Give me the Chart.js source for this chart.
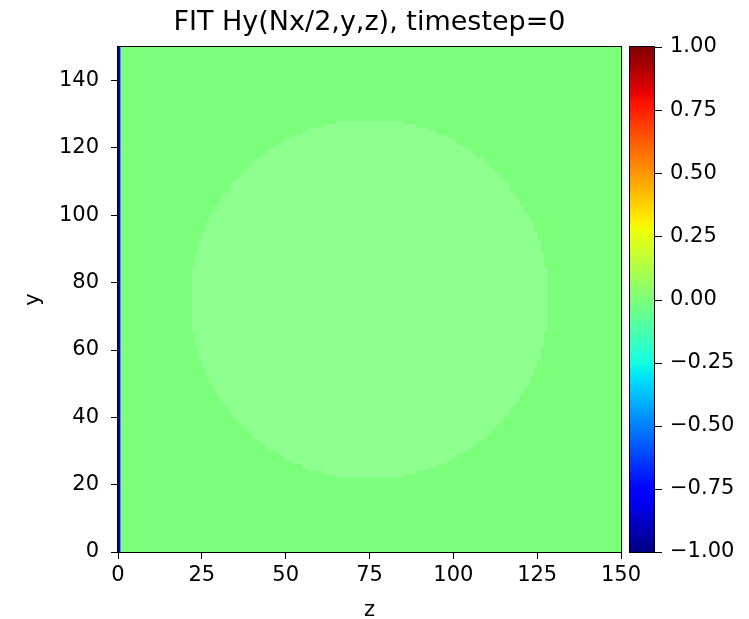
<!DOCTYPE html>
<html><head><meta charset="utf-8">
<script src="https://cdn.jsdelivr.net/npm/chart.js@4"></script>
<style>html,body{margin:0;padding:0;background:#fff}#wrap{width:749px;height:619px}</style>
</head><body><div id="wrap"><canvas id="c" width="749" height="619"></canvas></div>
<script>
// ---- data ----
const titleText = 'FIT Hy(Nx/2,y,z), timestep=0';
const xTicks = [0, 25, 50, 75, 100, 125, 150];
const yTicks = [0, 20, 40, 60, 80, 100, 120, 140];
const cbTicks = [-1, -0.75, -0.5, -0.25, 0, 0.25, 0.5, 0.75, 1];
const gridSize = 150;                 // cells along z and y
const backgroundValue = 0.0;          // field value almost everywhere
const edgeStripZ = [0, 0.3];          // thin strips at z = 0
const edgeStripWidth = [0.3, 0.4];
const edgeStripValue = [-1.0, -0.8];
const circleCenter = [75, 75];        // (z, y)
const circleRadius = 53.5;
const circleLighten = 0.15;           // lighter disc over the field

// ---- colour map (jet) ----
function interp(t, pts) {
  for (let i = 1; i < pts.length; i++) {
    if (t <= pts[i][0]) {
      const [x0, y0] = pts[i - 1], [x1, y1] = pts[i];
      return y0 + (y1 - y0) * (t - x0) / (x1 - x0);
    }
  }
  return pts[pts.length - 1][1];
}
function jet(v) {
  const t = Math.min(1, Math.max(0, (v + 1) / 2));
  const r = interp(t, [[0,0],[0.35,0],[0.66,1],[0.89,1],[1,0.5]]);
  const g = interp(t, [[0,0],[0.125,0],[0.375,1],[0.64,1],[0.91,0],[1,0]]);
  const b = interp(t, [[0,0.5],[0.11,1],[0.34,1],[0.65,0],[1,0]]);
  return `rgb(${Math.round(r*255)},${Math.round(g*255)},${Math.round(b*255)})`;
}
const fmt = v => (v < 0 ? '\u2212' : '') + Math.abs(v).toFixed(2);

const heatmapPlugin = {
  id: 'heatmap',
  beforeDatasetsDraw(chart) {
    const ctx = chart.ctx, xs = chart.scales.x, ys = chart.scales.y;
    const px = v => xs.getPixelForValue(v), py = v => ys.getPixelForValue(v);
    ctx.save();
    ctx.fillStyle = jet(backgroundValue);
    ctx.fillRect(px(0), py(gridSize), px(gridSize) - px(0), py(0) - py(gridSize));
    ctx.fillStyle = `rgba(255,255,255,${circleLighten})`;
    for (let j = 0; j < gridSize; j++) {
      let i0 = -1, i1 = -1;
      for (let i = 0; i < gridSize; i++) {
        const dz = i + 0.5 - circleCenter[0], dy = j + 0.5 - circleCenter[1];
        if (dz * dz + dy * dy <= circleRadius * circleRadius) { if (i0 < 0) i0 = i; i1 = i; }
      }
      if (i0 >= 0) {
        const x0 = Math.round(px(i0)), x1 = Math.round(px(i1 + 1));
        const y0 = Math.round(py(j + 1)), y1 = Math.round(py(j));
        ctx.fillRect(x0, y0, x1 - x0, y1 - y0);
      }
    }
    for (let k = 0; k < edgeStripZ.length; k++) {
      ctx.fillStyle = jet(edgeStripValue[k]);
      const x0 = px(edgeStripZ[k]), x1 = px(edgeStripZ[k] + edgeStripWidth[k]);
      ctx.fillRect(x0, py(gridSize), x1 - x0, py(0) - py(gridSize));
    }
    ctx.restore();
  },
  afterDraw(chart) {
    const ctx = chart.ctx, a = chart.chartArea, cb = chart.scales.cb;
    ctx.save();
    ctx.strokeStyle = '#000';
    ctx.lineWidth = 1;
    ctx.strokeRect(Math.round(a.left) - 0.5, Math.round(a.top) - 0.5, Math.round(a.right - a.left) + 1, Math.round(a.bottom - a.top) + 1);
    // colorbar
    const cx0 = a.right + 9, cw = 24;
    const top = cb.getPixelForValue(1), bot = cb.getPixelForValue(-1);
    const n = 256;
    for (let k = 0; k < n; k++) {
      const v0 = -1 + 2 * k / n, v1 = -1 + 2 * (k + 1) / n;
      const y0 = cb.getPixelForValue(v1), y1 = cb.getPixelForValue(v0);
      ctx.fillStyle = jet((v0 + v1) / 2);
      ctx.fillRect(cx0, Math.floor(y0), cw, Math.ceil(y1) - Math.floor(y0));
    }
    ctx.strokeRect(Math.round(cx0) - 0.5, Math.round(top) - 0.5, cw + 1, Math.round(bot - top) + 1);
    ctx.beginPath();
    cbTicks.forEach(v => {
      const y = Math.round(cb.getPixelForValue(v)) + 0.5;
      ctx.moveTo(cx0 + cw + 0.5, y); ctx.lineTo(cx0 + cw + 8, y);
    });
    ctx.stroke();
    ctx.restore();
  }
};

Chart.defaults.font.family = "'DejaVu Sans', sans-serif";
Chart.defaults.color = '#000';
const noPad = s => { s.paddingTop = 0; s.paddingBottom = 0; s.paddingLeft = 0; s.paddingRight = 0; };

new Chart(document.getElementById('c'), {
  type: 'scatter',
  data: { datasets: [{ data: [] }] },
  plugins: [heatmapPlugin],
  options: {
    responsive: false, animation: false,
    layout: { padding: { left: 0, right: 10, top: 0, bottom: 0 } },
    plugins: {
      legend: { display: false }, tooltip: { enabled: false },
      title: { display: true, text: titleText, color: '#000',
        font: { size: 27, weight: 'normal', lineHeight: 1.2 }, padding: { top: 7, bottom: 7.6 } }
    },
    scales: {
      x: { type: 'linear', position: 'bottom', min: 0, max: gridSize,
        afterBuildTicks: s => { s.ticks = xTicks.map(v => ({ value: v })); },
        afterFit: s => { s.height = 67; noPad(s); },
        ticks: { font: { size: 21 }, padding: 4, maxRotation: 0, autoSkip: false, color: '#000' },
        grid: { drawOnChartArea: false, tickLength: 7, color: '#000', tickColor: '#000' },
        border: { color: '#000', width: 1 },
        title: { display: true, text: 'z', color: '#000', font: { size: 21 }, padding: { top: 0, bottom: -4 } } },
      y: { type: 'linear', position: 'left', min: 0, max: gridSize,
        afterBuildTicks: s => { s.ticks = yTicks.map(v => ({ value: v })); },
        afterFit: s => { s.width = 118; noPad(s); },
        ticks: { font: { size: 21 }, padding: 12, autoSkip: false, color: '#000' },
        grid: { drawOnChartArea: false, tickLength: 7, color: '#000', tickColor: '#000' },
        border: { color: '#000', width: 1 },
        title: { display: true, text: 'y', color: '#000', font: { size: 21 }, padding: { top: 21, bottom: 0 } } },
      cb: { type: 'linear', axis: 'y', position: 'right', min: -1, max: 1,
        afterBuildTicks: s => { s.ticks = cbTicks.map(v => ({ value: v })); },
        afterFit: s => { s.width = 118; noPad(s); },
        ticks: { font: { size: 21 }, padding: 49, autoSkip: false, color: '#000', callback: v => fmt(v) },
        grid: { display: false, drawOnChartArea: false, drawTicks: false, tickLength: 0 },
        border: { display: false } }
    }
  }
});
</script></body></html>
